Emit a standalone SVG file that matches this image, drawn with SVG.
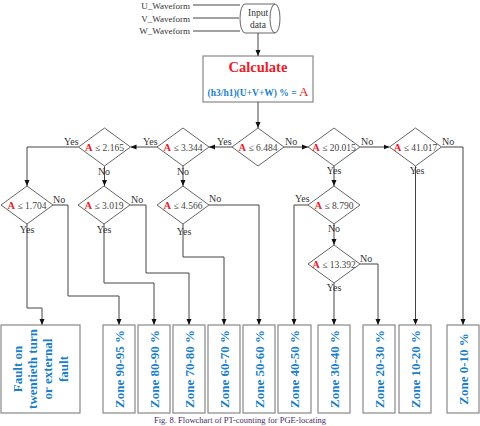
<svg xmlns="http://www.w3.org/2000/svg" width="480" height="426" viewBox="0 0 480 426">
<defs>
<marker id="ah" markerUnits="userSpaceOnUse" markerWidth="6" markerHeight="6" viewBox="0 0 6 6" refX="6" refY="3" orient="auto"><path d="M0,0.5 L6,3 L0,5.5 Z" fill="#111"/></marker>
<style>
text{font-family:'Liberation Serif','DejaVu Serif',serif}
.ln{fill:none;stroke:#444;stroke-width:1}
.ar{marker-end:url(#ah)}
.dm{fill:#fff;stroke:#666;stroke-width:1}
.bx{fill:#fff;stroke:#888;stroke-width:1.2}
.t{fill:#333}
.lb{font-size:10px;fill:#333}
.dt{font-size:9.5px;fill:#444;text-anchor:middle}
.ra{fill:#e8202a;font-weight:bold;font-size:10.5px}
.zn{font-size:13px;font-weight:bold;fill:#1a7fc8;text-anchor:middle}
</style>
</defs>
<rect width="480" height="426" fill="#fff"/>
<g id="inputs">
<text class="t" x="190" y="8.5" font-size="9" text-anchor="end">U_Waveform</text>
<text class="t" x="190" y="21.5" font-size="9" text-anchor="end">V_Waveform</text>
<text class="t" x="190" y="34" font-size="9" text-anchor="end">W_Waveform</text>
</g>
<g id="input-data">
<path d="M245,4 H275 A5,14.5 0 0 1 275,33 H245 A5,14.5 0 0 1 245,4 Z" fill="#fff" stroke="#666"/>
<path d="M275,4 A5,14.5 0 0 0 275,33" fill="none" stroke="#666"/>
<text class="t" x="258" y="16" font-size="9.5" text-anchor="middle">Input</text>
<text class="t" x="258" y="28" font-size="9.5" text-anchor="middle">data</text>
</g>
<g id="calculate">
<rect class="bx" x="203" y="56" width="110" height="46"/>
<text x="258" y="72" font-size="14.5" font-weight="bold" fill="#e8202a" text-anchor="middle">Calculate</text>
<text x="258" y="96" text-anchor="middle"><tspan font-size="9.5" font-weight="bold" fill="#1a7fc8">(h3/h1)(U+V+W) % = </tspan><tspan font-size="13" fill="#e8202a">A</tspan></text>
</g>
<g id="connectors">
<path class="ln" d="M193,5 H240"/>
<path class="ln" d="M193,18 H239"/>
<path class="ln" d="M193,31 H240"/>
<path class="ln ar" d="M258,33 V56"/>
<path class="ln ar" d="M258,102 V128"/>
<path class="ln ar" d="M232,147 H209"/>
<path class="ln ar" d="M157,147 H130.5"/>
<path class="ln ar" d="M78.5,147 H27 V186"/>
<path class="ln ar" d="M104.5,166 V186"/>
<path class="ln ar" d="M183,166 V186"/>
<path class="ln ar" d="M284,147 H308"/>
<path class="ln ar" d="M360,147 H389.5"/>
<path class="ln ar" d="M441.5,147 H463 V325"/>
<path class="ln ar" d="M415.5,166 V325"/>
<path class="ln ar" d="M334,166 V186"/>
<path class="ln ar" d="M308,205 H294 V325"/>
<path class="ln ar" d="M334,224 V245"/>
<path class="ln ar" d="M360,264 H378 V325"/>
<path class="ln ar" d="M334,283 V325"/>
<path class="ln ar" d="M27,224 V308 H42 V325"/>
<path class="ln ar" d="M53,205 H68 V296 H119 V325"/>
<path class="ln ar" d="M104,224 V283 H154 V325"/>
<path class="ln ar" d="M130,205 H146 V273 H189 V325"/>
<path class="ln ar" d="M183,224 V257 H224 V325"/>
<path class="ln ar" d="M209,205 H259 V325"/>
</g>
<g id="d6484"><path class="dm" d="M258,128 L284,147 L258,166 L232,147 Z"/><text class="dt" x="258" y="150.5"><tspan class="ra">A</tspan> ≤ 6.484</text></g>
<g id="d3344"><path class="dm" d="M183,128 L209,147 L183,166 L157,147 Z"/><text class="dt" x="183" y="150.5"><tspan class="ra">A</tspan> ≤ 3.344</text></g>
<g id="d2165"><path class="dm" d="M104.5,128 L130.5,147 L104.5,166 L78.5,147 Z"/><text class="dt" x="104.5" y="150.5"><tspan class="ra">A</tspan> ≤ 2.165</text></g>
<g id="d20015"><path class="dm" d="M334,128 L360,147 L334,166 L308,147 Z"/><text class="dt" x="334" y="150.5"><tspan class="ra">A</tspan> ≤ 20.015</text></g>
<g id="d41017"><path class="dm" d="M415.5,128 L441.5,147 L415.5,166 L389.5,147 Z"/><text class="dt" x="415.5" y="150.5"><tspan class="ra">A</tspan> ≤ 41.017</text></g>
<g id="d1704"><path class="dm" d="M27,186 L53,205 L27,224 L1,205 Z"/><text class="dt" x="27" y="208.5"><tspan class="ra">A</tspan> ≤ 1.704</text></g>
<g id="d3019"><path class="dm" d="M104,186 L130,205 L104,224 L78,205 Z"/><text class="dt" x="104" y="208.5"><tspan class="ra">A</tspan> ≤ 3.019</text></g>
<g id="d4566"><path class="dm" d="M183,186 L209,205 L183,224 L157,205 Z"/><text class="dt" x="183" y="208.5"><tspan class="ra">A</tspan> ≤ 4.566</text></g>
<g id="d8790"><path class="dm" d="M334,186 L360,205 L334,224 L308,205 Z"/><text class="dt" x="334" y="208.5"><tspan class="ra">A</tspan> ≤ 8.790</text></g>
<g id="d13392"><path class="dm" d="M334,245 L360,264 L334,283 L308,264 Z"/><text class="dt" x="334" y="267.5"><tspan class="ra">A</tspan> ≤ 13.392</text></g>
<g id="labels">
<text class="lb" x="217" y="145">Yes</text>
<text class="lb" x="285" y="145">No</text>
<text class="lb" x="143" y="145">Yes</text>
<text class="lb" x="64" y="145">Yes</text>
<text class="lb" x="361" y="145">No</text>
<text class="lb" x="442" y="145">No</text>
<text class="lb" x="334" y="174" text-anchor="middle">Yes</text>
<text class="lb" x="417" y="174" text-anchor="middle">Yes</text>
<text class="lb" x="104" y="175" text-anchor="middle">No</text>
<text class="lb" x="183" y="175" text-anchor="middle">No</text>
<text class="lb" x="53" y="203">No</text>
<text class="lb" x="27" y="233" text-anchor="middle">Yes</text>
<text class="lb" x="131" y="203">No</text>
<text class="lb" x="104" y="233" text-anchor="middle">Yes</text>
<text class="lb" x="209" y="202">No</text>
<text class="lb" x="184" y="235" text-anchor="middle">Yes</text>
<text class="lb" x="295" y="202">Yes</text>
<text class="lb" x="334" y="232" text-anchor="middle">No</text>
<text class="lb" x="360" y="262">No</text>
<text class="lb" x="334" y="291" text-anchor="middle">Yes</text>
</g>
<g id="fault"><rect class="bx" x="1" y="325" width="79" height="88"/>
<text class="zn" transform="translate(40.5,369) rotate(-90)"><tspan x="0" y="-19">Fault on</tspan><tspan x="0" y="-4">twentieth turn</tspan><tspan x="0" y="11.5">or external</tspan><tspan x="0" y="27">fault</tspan></text></g>
<g id="z9095"><rect class="bx" x="103" y="325" width="32" height="88"/><text class="zn" transform="translate(119,369) rotate(-90)" y="4.5">Zone 90-95 %</text></g>
<g id="z8090"><rect class="bx" x="138" y="325" width="32" height="88"/><text class="zn" transform="translate(154,369) rotate(-90)" y="4.5">Zone 80-90 %</text></g>
<g id="z7080"><rect class="bx" x="173" y="325" width="32" height="88"/><text class="zn" transform="translate(189,369) rotate(-90)" y="4.5">Zone 70-80 %</text></g>
<g id="z6070"><rect class="bx" x="208" y="325" width="32" height="88"/><text class="zn" transform="translate(224,369) rotate(-90)" y="4.5">Zone 60-70 %</text></g>
<g id="z5060"><rect class="bx" x="243" y="325" width="32" height="88"/><text class="zn" transform="translate(259,369) rotate(-90)" y="4.5">Zone 50-60 %</text></g>
<g id="z4050"><rect class="bx" x="278" y="325" width="33" height="88"/><text class="zn" transform="translate(294.5,369) rotate(-90)" y="4.5">Zone 40-50 %</text></g>
<g id="z3040"><rect class="bx" x="318" y="325" width="32" height="88"/><text class="zn" transform="translate(334,369) rotate(-90)" y="4.5">Zone 30-40 %</text></g>
<g id="z2030"><rect class="bx" x="363" y="325" width="32" height="88"/><text class="zn" transform="translate(379,369) rotate(-90)" y="4.5">Zone 20-30 %</text></g>
<g id="z1020"><rect class="bx" x="399" y="325" width="32" height="88"/><text class="zn" transform="translate(415,369) rotate(-90)" y="4.5">Zone 10-20 %</text></g>
<g id="z010"><rect class="bx" x="447" y="325" width="32" height="88"/><text class="zn" transform="translate(463,369) rotate(-90)" y="4.5">Zone 0-10 %</text></g>
<text x="240" y="423" font-size="8.5" fill="#4a2a6a" text-anchor="middle">Fig. 8. Flowchart of PT-counting for PGE-locating</text>
</svg>
